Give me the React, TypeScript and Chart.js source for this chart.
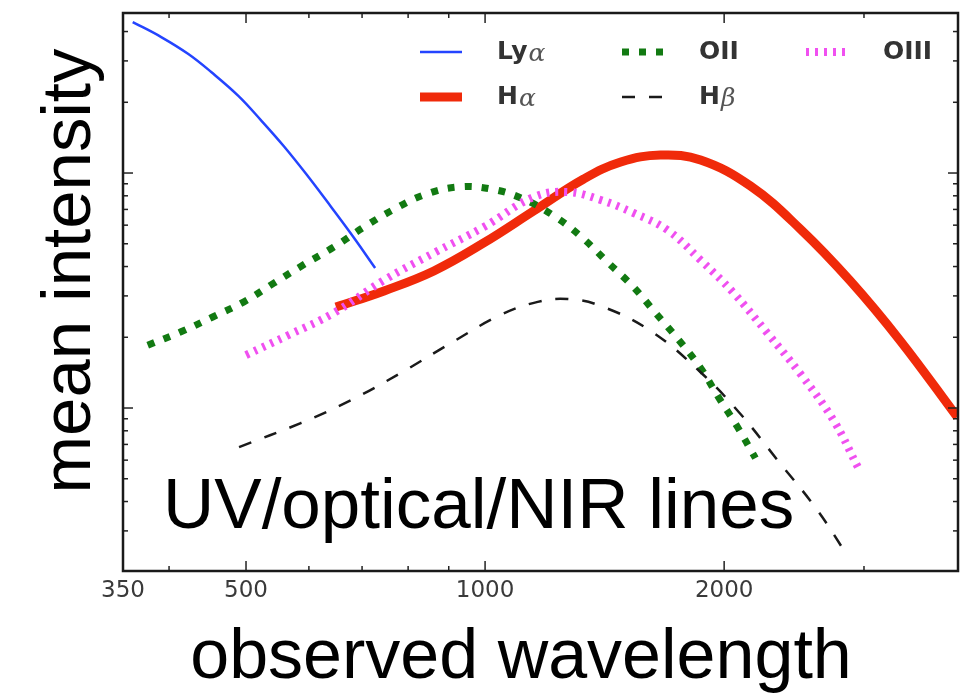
import React, { useEffect, useRef } from "react";
import { Chart, registerables } from "chart.js";

Chart.register(...registerables);

// ---- data (observed wavelength, mean intensity) ----
const lyaX = [360, 391, 423, 452, 489, 522, 558, 598, 640, 684, 727];
const lyaY = [4.39, 3.79, 3.21, 2.69, 2.13, 1.68, 1.3, 0.971, 0.717, 0.529, 0.394];

const haX = [649, 746, 862, 996, 1151, 1331, 1482, 1663, 1868, 2159, 2494, 2884, 3334, 3932];
const haY = [0.269, 0.315, 0.383, 0.504, 0.689, 0.943, 1.114, 1.193, 1.136, 0.88, 0.578, 0.347, 0.193, 0.0915];

const o2X = [376, 414, 454, 497, 542, 590, 645, 704, 765, 837, 924, 1017, 1118, 1227, 1327, 1426, 1538, 1639, 1753, 1868, 1968, 2079, 2190];
const o2Y = [0.185, 0.211, 0.244, 0.283, 0.34, 0.406, 0.484, 0.589, 0.696, 0.806, 0.872, 0.855, 0.775, 0.65, 0.529, 0.418, 0.327, 0.254, 0.195, 0.148, 0.111, 0.083, 0.0612];

const o3X = [500, 565, 645, 746, 862, 996, 1151, 1271, 1398, 1538, 1697, 1868, 2055, 2268, 2494, 2745, 2951];
const o3Y = [0.168, 0.204, 0.254, 0.35, 0.457, 0.589, 0.79, 0.83, 0.768, 0.676, 0.572, 0.426, 0.309, 0.208, 0.14, 0.0889, 0.0556];

const hbX = [490, 586, 678, 783, 906, 1046, 1165, 1271, 1398, 1616, 1868, 2097, 2334, 2620, 2867];
const hbY = [0.0682, 0.0863, 0.108, 0.141, 0.189, 0.249, 0.283, 0.291, 0.272, 0.213, 0.142, 0.0943, 0.0601, 0.0368, 0.0232];

const xMajorTicks = [500, 1000, 2000];
const xMinorTicks = [400, 600, 700, 800, 900, 3000];
const xTickLabels = [350, 500, 1000, 2000];
const yMajorTicks = [0.1, 1];
const yMinorTicks = [0.03, 0.04, 0.05, 0.06, 0.07, 0.08, 0.09, 0.2, 0.3, 0.4, 0.5, 0.6, 0.7, 0.8, 0.9, 2, 3, 4];

const X_MIN = 350;
const X_MAX = 3940;
const Y_MIN = 0.02025;
const Y_MAX = 4.797;

const TITLE_X = "observed wavelength";
const TITLE_Y = "mean intensity";
const NOTE = "UV/optical/NIR lines";

const pts = (xs: number[], ys: number[]) => xs.map((x, i) => ({ x, y: ys[i] }));

type Leg = { idx: number; name: string; greek: string; col: number; row: number };

const legendItems: Leg[] = [
  { idx: 4, name: "Ly", greek: "α", col: 0, row: 0 },
  { idx: 3, name: "H", greek: "α", col: 0, row: 1 },
  { idx: 2, name: "OII", greek: "", col: 1, row: 0 },
  { idx: 1, name: "H", greek: "β", col: 1, row: 1 },
  { idx: 0, name: "OIII", greek: "", col: 2, row: 0 },
];

const decorPlugin = {
  id: "decor",
  afterDraw(chart: any) {
    const { ctx, chartArea: a, scales } = chart;
    const sx = scales.x;
    const sy = scales.y;
    ctx.save();
    ctx.strokeStyle = "#222";
    ctx.lineWidth = 1.5;
    const seg = (x1: number, y1: number, x2: number, y2: number) => {
      ctx.beginPath();
      ctx.moveTo(x1, y1);
      ctx.lineTo(x2, y2);
      ctx.stroke();
    };
    const xt = (v: number, len: number) => {
      const p = sx.getPixelForValue(v);
      seg(p, a.bottom, p, a.bottom - len);
      seg(p, a.top, p, a.top + len);
    };
    const yt = (v: number, len: number) => {
      const p = sy.getPixelForValue(v);
      seg(a.left, p, a.left + len, p);
      seg(a.right, p, a.right - len, p);
    };
    xMinorTicks.forEach((v) => xt(v, 5));
    xMajorTicks.forEach((v) => xt(v, 10));
    yMinorTicks.forEach((v) => yt(v, 5));
    yMajorTicks.forEach((v) => yt(v, 10));

    // frame
    ctx.lineWidth = 2.5;
    ctx.strokeStyle = "#1a1a1a";
    ctx.strokeRect(a.left, a.top, a.right - a.left, a.bottom - a.top);

    // legend
    const colX = [420, 622, 806];
    const rowY = [52, 97];
    const lineLen = 42;
    const textGap = 77;
    legendItems.forEach((it) => {
      const ds = chart.data.datasets[it.idx];
      const x0 = colX[it.col];
      const y0 = rowY[it.row];
      ctx.save();
      ctx.strokeStyle = ds.borderColor;
      ctx.lineWidth = ds.borderWidth;
      ctx.lineCap = "butt";
      ctx.setLineDash(ds.borderDash || []);
      ctx.beginPath();
      ctx.moveTo(x0, y0);
      ctx.lineTo(x0 + lineLen, y0);
      ctx.stroke();
      ctx.restore();
      ctx.fillStyle = "#333";
      ctx.textBaseline = "middle";
      ctx.textAlign = "left";
      ctx.font = "bold 25px 'DejaVu Sans'";
      const tx = x0 + textGap;
      ctx.fillText(it.name, tx, y0);
      if (it.greek) {
        const w = ctx.measureText(it.name).width;
        ctx.fillStyle = "#555";
        ctx.font = "italic 25px 'DejaVu Serif'";
        ctx.fillText(it.greek, tx + w + 1, y0 + 2);
      }
    });

    // large texts
    ctx.fillStyle = "#000";
    ctx.font = "71px 'Liberation Sans'";
    ctx.textAlign = "left";
    ctx.textBaseline = "alphabetic";
    ctx.fillText(NOTE, 163, 528);

    ctx.font = "70px 'Liberation Sans'";
    ctx.textAlign = "center";
    ctx.fillText(TITLE_X, 521, 678);

    ctx.font = "69px 'Liberation Sans'";
    ctx.save();
    ctx.translate(90, 271);
    ctx.rotate(-Math.PI / 2);
    ctx.fillText(TITLE_Y, 0, 0);
    ctx.restore();

    ctx.restore();
  },
};

export default function App() {
  const ref = useRef<HTMLCanvasElement | null>(null);

  useEffect(() => {
    document.body.style.margin = "0";
    const canvas = ref.current;
    if (!canvas) return;
    const common = { pointRadius: 0, fill: false, borderCapStyle: "butt", tension: 0.4 };
    const chart = new Chart(canvas, {
      type: "line",
      data: {
        datasets: [
          { label: "OIII", data: pts(o3X, o3Y), borderColor: "#f050f0", borderWidth: 8, borderDash: [3, 6], ...common },
          { label: "Hβ", data: pts(hbX, hbY), borderColor: "#1a1a1a", borderWidth: 2.5, borderDash: [13, 14], ...common },
          { label: "OII", data: pts(o2X, o2Y), borderColor: "#127a12", borderWidth: 7, borderDash: [7, 10], ...common },
          { label: "Hα", data: pts(haX, haY), borderColor: "#f02a0a", borderWidth: 9, ...common },
          { label: "Lyα", data: pts(lyaX, lyaY), borderColor: "#2444ff", borderWidth: 2.5, ...common },
        ] as any,
      },
      options: {
        responsive: false,
        devicePixelRatio: 1,
        animation: false,
        layout: { padding: { left: 0, right: 5, top: 13, bottom: 0 } },
        plugins: { legend: { display: false }, tooltip: { enabled: false }, title: { display: false } },
        scales: {
          x: {
            type: "logarithmic",
            min: X_MIN,
            max: X_MAX,
            grid: { display: false, drawTicks: false },
            border: { display: false },
            afterBuildTicks: (s: any) => {
              s.ticks = [350, ...xMinorTicks, ...xMajorTicks].sort((p, q) => p - q).map((v) => ({ value: v }));
            },
            afterFit: (s: any) => {
              s.height = 123;
            },
            ticks: {
              autoSkip: false,
              maxRotation: 0,
              padding: 6,
              color: "#3a3a3a",
              font: { family: "'DejaVu Sans'", size: 23 },
              callback: (v: any) => (xTickLabels.includes(Number(v)) ? String(v) : ""),
            },
          },
          y: {
            type: "logarithmic",
            min: Y_MIN,
            max: Y_MAX,
            grid: { display: false, drawTicks: false },
            border: { display: false },
            ticks: { display: false },
            afterFit: (s: any) => {
              s.width = 123;
            },
          },
        },
      } as any,
      plugins: [decorPlugin],
    });
    return () => chart.destroy();
  }, []);

  return (
    <div style={{ width: 963, height: 694, background: "#fff" }}>
      <canvas ref={ref} width={963} height={694} style={{ display: "block" }} />
    </div>
  );
}
